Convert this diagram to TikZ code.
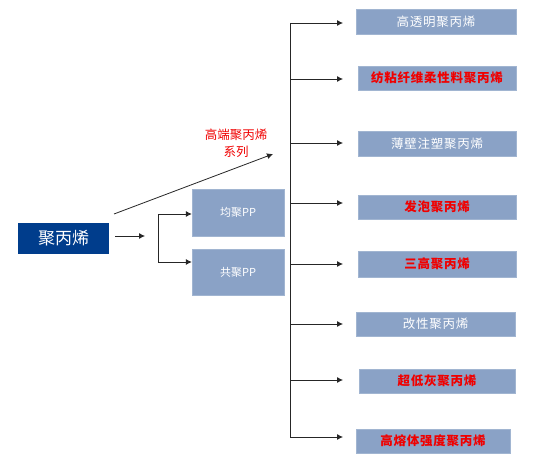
\documentclass[tikz,border=0pt]{standalone}
\usepackage{fontspec}
\newfontfamily\cjk[LetterSpace=6]{Noto Sans CJK SC}
\newfontfamily\cjkmain{Noto Sans CJK SC}
\usetikzlibrary{arrows.meta}
\definecolor{mainblue}{RGB}{0,61,140}
\definecolor{boxblue}{RGB}{138,162,198}
\definecolor{txtred}{RGB}{240,0,0}
\tikzset{
  arr/.style={draw=black!85, line width=0.8pt, -{Latex[length=6pt,width=6pt]}},
  ln/.style={draw=black!85, line width=0.8pt},
  bx/.style={fill=boxblue, draw=boxblue!80!white, line width=0.4pt, inner sep=0pt, text=white, font=\cjk\fontsize{12.5}{14}\selectfont},
  redbx/.style={bx, text=txtred, font=\cjk\bfseries\fontsize{12.5}{14}\selectfont},
}
\begin{document}
\begin{tikzpicture}[x=1pt,y=-1pt]
\fill[white] (0,0) rectangle (554,468);
\useasboundingbox (0,0) rectangle (554,468);

\node[fill=mainblue, minimum width=91pt, minimum height=31pt, inner sep=0pt, text=white, font=\cjkmain\fontsize{17}{19}\selectfont] (main) at (63.5,238.5) {聚丙烯};

\node[bx, minimum width=92pt, minimum height=47pt, font=\cjkmain\fontsize{11}{13}\selectfont] (jun) at (238,212.5) {均聚PP};
\node[bx, minimum width=92pt, minimum height=46pt, font=\cjkmain\fontsize{11}{13}\selectfont] (gong) at (238,272) {共聚PP};

\node[bx, minimum width=160pt, minimum height=25pt] (r1) at (436,21.5) {高透明聚丙烯};
\node[redbx, minimum width=158pt, minimum height=24pt] (r2) at (437,78) {纺粘纤维柔性料聚丙烯};
\node[bx, minimum width=158pt, minimum height=25pt] (r3) at (437,143.5) {薄壁注塑聚丙烯};
\node[redbx, minimum width=158pt, minimum height=24pt] (r4) at (437,207) {发泡聚丙烯};
\node[redbx, minimum width=158pt, minimum height=26pt] (r5) at (437,264) {三高聚丙烯};
\node[bx, minimum width=159pt, minimum height=24pt] (r6) at (435.5,324) {改性聚丙烯};
\node[redbx, minimum width=156pt, minimum height=24pt] (r7) at (437,381) {超低灰聚丙烯};
\node[redbx, minimum width=154pt, minimum height=24pt] (r8) at (433,441) {高熔体强度聚丙烯};

\node[text=txtred, font=\cjkmain\fontsize{12.5}{17}\selectfont, align=center] (lbl) at (236,143) {高端聚丙烯\\系列};

% connectors
\coordinate (m1) at (115,236);
\coordinate (m2) at (145,236);
\draw[arr] (m1) -- (m2);

\coordinate (bt) at (158,214);
\coordinate (bb) at (158,262);
\draw[ln] (bt) -- (bb);
\draw[arr] (bt) -- (bt -| jun.west);
\draw[arr] (bb) -- (bb -| gong.west);

\coordinate (d1) at (114,214);
\coordinate (d2) at (273,154);
\draw[arr] (d1) -- (d2);

\coordinate (vt) at (290,23);
\coordinate (vb) at (290,437);
\draw[ln] (vt) -- (vb);
\foreach \y/\n in {23/a1,79/a2,143/a3,203/a4,264/a5,324/a6,380/a7,437/a8}{
  \coordinate (\n s) at (290,\y);
  \coordinate (\n e) at (343,\y);
  \draw[arr] (\n s) -- (\n e);
}
\end{tikzpicture}
\end{document}
